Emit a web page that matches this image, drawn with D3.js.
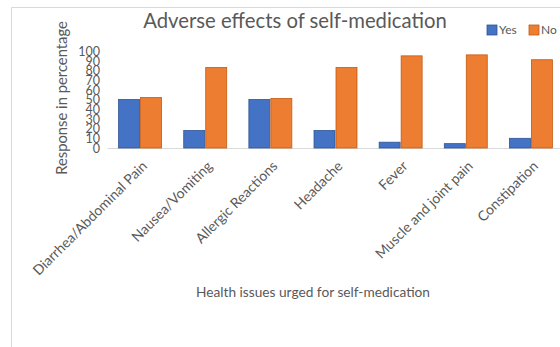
<!DOCTYPE html>
<html><head><meta charset="utf-8">
<script src="https://cdn.jsdelivr.net/npm/d3@7"></script>
<style>body{margin:0;background:#fff}svg{display:block}text{font-family:Lato,"Open Sans",sans-serif}</style>
</head><body>
<svg id="c" width="560" height="347"></svg>
<script>
const categories = ["Diarrhea/Abdominal Pain","Nausea/Vomiting","Allergic Reactions","Headache","Fever","Muscle and joint pain","Constipation"];
const seriesNames = ["Yes","No"];
const yesValues = [50, 18, 50, 18, 6, 4.5, 10];
const noValues  = [52, 83, 51, 83, 95, 96, 91];
const yTicks = [0,10,20,30,40,50,60,70,80,90,100];
const colors = ["#4472C4","#ED7D31"];
const strokes = ["#2F5597","#C55A11"];

const svg = d3.select("#c");
const grey = "#595959";

// outer frame (partially cropped)
svg.append("path").attr("d","M11.5,600 L11.5,7.5 L600,7.5").attr("fill","none").attr("stroke","#d9d9d9");

const x = d3.scaleBand().domain(categories).range([107.5, 563.5]).paddingInner(0.325).paddingOuter(0.1625);
const xs = d3.scaleBand().domain(seriesNames).range([0, x.bandwidth()]);
const y = d3.scaleLinear().domain([0,100]).range([148, 51]);

// baseline
svg.append("line").attr("x1",107.5).attr("x2",600).attr("y1",148.5).attr("y2",148.5).attr("stroke","#d9d9d9");

const data = [yesValues, noValues];
const g = svg.append("g");
categories.forEach((c,i)=>{
  data.forEach((vals,s)=>{
    g.append("rect")
      .attr("x", x(c)+xs(seriesNames[s])+0.5)
      .attr("y", y(vals[i]))
      .attr("width", xs.bandwidth()-1)
      .attr("height", y(0)-y(vals[i]))
      .attr("fill", colors[s]).attr("stroke", strokes[s]).attr("stroke-width",0.8);
  });
});

// y axis labels
const yAxis = d3.axisLeft(y).tickValues(yTicks).tickSize(0).tickPadding(0);
const ya = svg.append("g").attr("transform","translate(100,0)").call(yAxis);
ya.select(".domain").remove();
ya.selectAll("text").attr("fill",grey).style("font-size","12.5px").attr("dy","0.35em");

// x axis labels
const xAxis = d3.axisBottom(x).tickSize(0).tickPadding(0);
const xa = svg.append("g").attr("transform","translate(0,148)").call(xAxis);
xa.select(".domain").remove();
xa.selectAll("text").attr("fill",grey).style("font-size","14px")
  .attr("text-anchor","end").attr("dy",0).attr("y",0)
  .attr("transform","translate(8,19) rotate(-45)");

// title
svg.append("text").attr("x",295).attr("y",28).attr("text-anchor","middle")
  .attr("fill",grey).style("font-size","20.3px").text("Adverse effects of self-medication");

// axis titles
svg.append("text").attr("transform","translate(67,98) rotate(-90)").attr("text-anchor","middle")
  .attr("fill",grey).style("font-size","14.8px").text("Response in percentage");
svg.append("text").attr("x",313).attr("y",297).attr("text-anchor","middle")
  .attr("fill",grey).style("font-size","13.7px").text("Health issues urged for self-medication");

// legend
const lg = svg.append("g");
seriesNames.forEach((n,i)=>{
  const lx = [487,529][i];
  lg.append("rect").attr("x",lx).attr("y",25).attr("width",10).attr("height",10)
    .attr("fill",colors[i]).attr("stroke",strokes[i]).attr("stroke-width",0.8);
  lg.append("text").attr("x",lx+12).attr("y",34).attr("fill",grey).style("font-size","12px").text(n);
});
</script>
</body></html>
